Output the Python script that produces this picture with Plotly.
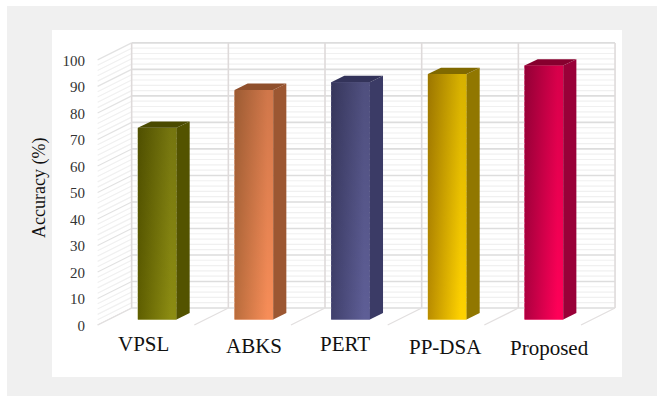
import plotly.graph_objects as go

# Chart content
categories = ["VPSL", "ABKS", "PERT", "PP-DSA", "Proposed"]
accuracy = [72.3, 86.6, 89.5, 92.6, 95.8]
y_ticks = [0, 10, 20, 30, 40, 50, 60, 70, 80, 90, 100]
minor_ticks = [v for v in range(0, 101, 2) if v % 10]

# Bar colours: gradient left, gradient right, side face, top face
face_left = ["#5e5e00", "#b96c3c", "#40406c", "#b98c00", "#ae0040"]
face_right = ["#8c8c12", "#f78d58", "#5e5e96", "#ffd200", "#ff0058"]
side_face = ["#535300", "#9c5732", "#3b3b66", "#917700", "#990038"]
top_face = ["#4a4a00", "#8f4f2c", "#33335a", "#806900", "#86002e"]

# Pseudo-3D projection, in axis units
WALL_DX, WALL_DY = 0.352, 6.42     # floor front edge to back wall
BACK_X0 = -0.264                   # first vertical on the back wall
BACK_DY = 4.34                     # back wall rise above the bar front plane
HALF_W = 0.2
BAR_DX, BAR_DY = 0.136, 2.4        # depth of each bar

positions = list(range(len(categories)))
fig = go.Figure()


def segments(pairs):
    xs, ys = [], []
    for (x0, y0), (x1, y1) in pairs:
        xs += [x0, x1, None]
        ys += [y0, y1, None]
    return xs, ys


def add_lines(pairs, color, width):
    xs, ys = segments(pairs)
    fig.add_trace(go.Scatter(x=xs, y=ys, mode="lines", hoverinfo="skip",
                             line=dict(color=color, width=width), showlegend=False))


back_right = BACK_X0 + len(categories)

# Minor lines on the back and left walls
add_lines([((BACK_X0, v + BACK_DY), (back_right, v + BACK_DY)) for v in minor_ticks], "#f0f0f0", 1.2)
add_lines([((BACK_X0 - WALL_DX, v + BACK_DY - WALL_DY), (BACK_X0, v + BACK_DY)) for v in minor_ticks],
          "#f0f0f0", 1.2)

# Major lines, verticals and floor ticks
add_lines([((BACK_X0, v + BACK_DY), (back_right, v + BACK_DY)) for v in y_ticks], "#dddddd", 1.6)
add_lines([((BACK_X0 - WALL_DX, v + BACK_DY - WALL_DY), (BACK_X0, v + BACK_DY)) for v in y_ticks],
          "#e2e2e2", 1.2)
add_lines([((BACK_X0 + k, BACK_DY), (BACK_X0 + k, 100 + BACK_DY)) for k in range(len(categories) + 1)],
          "#dedada", 1.6)
add_lines([((BACK_X0 + k - WALL_DX, BACK_DY - WALL_DY), (BACK_X0 + k, BACK_DY))
           for k in range(len(categories) + 1)], "#e2dfdf", 1.3)

# Front faces of the bars
fig.add_trace(go.Bar(x=positions, y=accuracy, width=2 * HALF_W, customdata=categories,
                     marker=dict(color=face_right, line=dict(width=0)),
                     hovertemplate="%{customdata}: %{y}%<extra></extra>", showlegend=False))

for i, value in enumerate(accuracy):
    xl, xr = i - HALF_W, i + HALF_W
    # horizontal shading across the front face
    fig.add_trace(go.Scatter(
        x=[xl, xr, xr, xl, xl], y=[0, 0, value, value, 0], mode="none", fill="toself",
        fillgradient=dict(type="horizontal",
                          colorscale=[[0, face_left[i]], [0.85, face_right[i]], [1, face_right[i]]]),
        hoverinfo="skip", showlegend=False))
    # darker towards the top of the bar
    fig.add_trace(go.Scatter(
        x=[xl, xr, xr, xl, xl], y=[0, 0, value, value, 0], mode="none", fill="toself",
        fillgradient=dict(type="vertical",
                          colorscale=[[0, "rgba(0,0,0,0)"], [1, "rgba(0,0,0,0.16)"]]),
        hoverinfo="skip", showlegend=False))
    # side face
    fig.add_trace(go.Scatter(
        x=[xr, xr + BAR_DX, xr + BAR_DX, xr, xr], y=[0, BAR_DY, value + BAR_DY, value, 0],
        mode="lines", fill="toself", fillcolor=side_face[i], line=dict(width=0),
        hoverinfo="skip", showlegend=False))
    # top face
    fig.add_trace(go.Scatter(
        x=[xl, xr, xr + BAR_DX, xl + BAR_DX, xl],
        y=[value, value, value + BAR_DY, value + BAR_DY, value],
        mode="lines", fill="toself", fillcolor=top_face[i], line=dict(width=0),
        hoverinfo="skip", showlegend=False))

# Value-axis labels sit along the front edge of the left wall
fig.add_trace(go.Scatter(
    x=[BACK_X0 - WALL_DX - 0.13] * len(y_ticks),
    y=[v + BACK_DY - WALL_DY - 0.8 for v in y_ticks],
    mode="text", text=[str(v) for v in y_ticks], textposition="middle left",
    textfont=dict(family="Liberation Serif", size=15, color="#333333"),
    hoverinfo="skip", showlegend=False))

# Category labels, each set slightly differently
label_shift_x = [-14, 0, -6, -2, 6]
label_shift_y = [0, -2, 0, -3, -4]
for pos, name, dx, dy in zip(positions, categories, label_shift_x, label_shift_y):
    fig.add_annotation(x=pos, y=-9.3, text=name, showarrow=False, xshift=dx, yshift=dy,
                       font=dict(family="Liberation Serif", size=21, color="#111111"))

# Grey page with a white card, white sliver at the top and left
W, H = 657, 396
L, R, T, B = 52, 35, 30, 19
pw, ph = W - L - R, H - T - B


def px(p):
    return (p - L) / pw


def py(p):
    return 1 - (p - T) / ph


fig.update_layout(
    width=W, height=H, margin=dict(l=L, r=R, t=T, b=B),
    paper_bgcolor="#ffffff", plot_bgcolor="rgba(0,0,0,0)",
    barmode="overlay",
    xaxis=dict(range=[-1.088, 4.808], showgrid=False, zeroline=False,
               showticklabels=False, ticks="", showline=False, fixedrange=True),
    yaxis=dict(range=[-21.7, 109.2], showgrid=False, zeroline=False,
               showticklabels=False, ticks="", showline=False, fixedrange=True),
    shapes=[
        dict(type="rect", xref="paper", yref="paper", layer="below", line_width=0,
             fillcolor="#f0f0f0", x0=px(7), x1=px(W), y0=py(H), y1=py(6)),
        dict(type="rect", xref="paper", yref="paper", layer="below", line_width=0,
             fillcolor="#ffffff", x0=0, x1=1, y0=0, y1=1),
    ],
)
fig.add_annotation(text="Accuracy (%)", textangle=-90, xref="paper", yref="paper",
                   x=px(39), y=py(188), xanchor="center", yanchor="middle", showarrow=False,
                   font=dict(family="Liberation Serif", size=18, color="#111111"))

fig.write_html("out.html")
